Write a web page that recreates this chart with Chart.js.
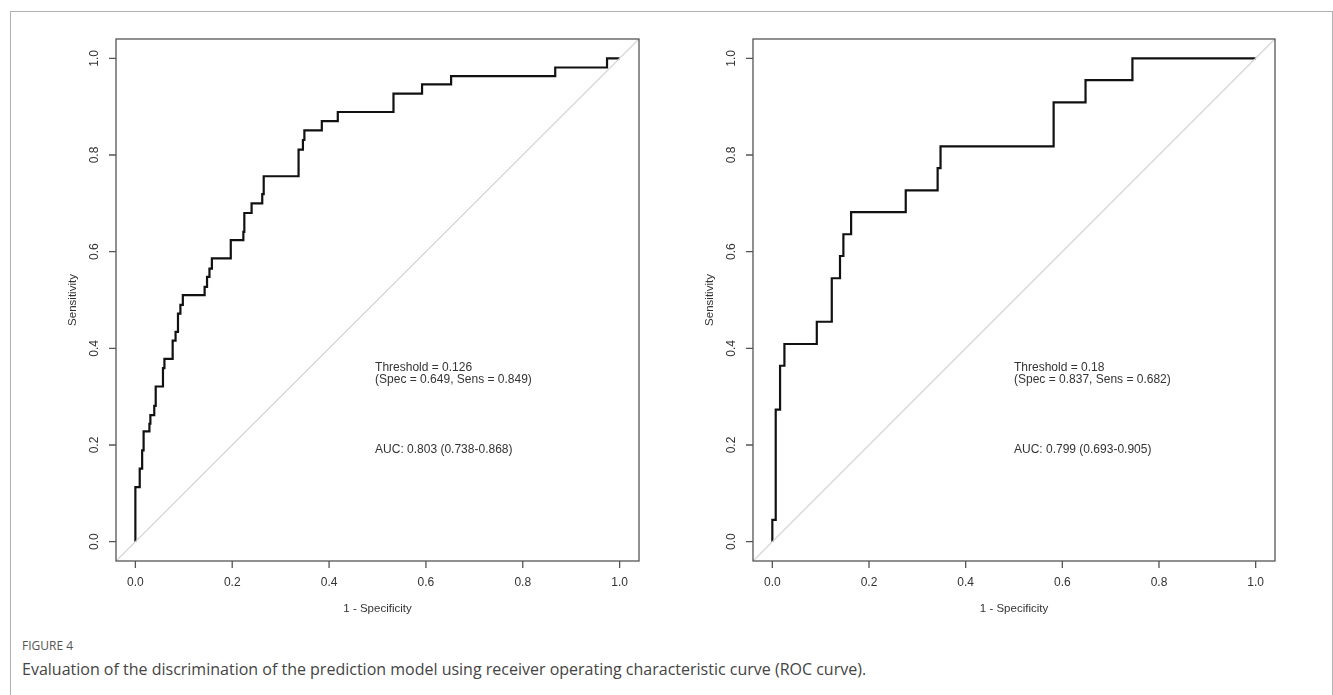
<!DOCTYPE html>
<html>
<head>
<meta charset="utf-8">
<script src="https://cdn.jsdelivr.net/npm/chart.js@4.4.1/dist/chart.umd.min.js"></script>
<style>
  body { margin: 0; background: #fff; width: 1333px; height: 695px; overflow: hidden; position: relative; }
  .frame { position: absolute; left: 10px; top: 11px; width: 1321px; height: 720px; border: 1px solid #b0b0b0; }
  canvas { position: absolute; top: 0; }
  #rocLeft { left: 0; }
  #rocRight { left: 666px; }
  .fig-label { position: absolute; left: 22px; top: 637px; font: 12px "Open Sans", sans-serif; color: #555; }
  .fig-caption { position: absolute; left: 22px; top: 658px; font: 16px "Open Sans", sans-serif; color: #444; }
</style>
</head>
<body>
<div class="frame"></div>
<canvas id="rocLeft" width="666" height="630"></canvas>
<canvas id="rocRight" width="667" height="630"></canvas>
<div class="fig-label">FIGURE 4</div>
<div class="fig-caption">Evaluation of the discrimination of the prediction model using receiver operating characteristic curve (ROC curve).</div>

<script>
// axis ticks (same on both panels)
const tickValues = [0, 0.2, 0.4, 0.6, 0.8, 1.0];
const tickLabels = ['0.0', '0.2', '0.4', '0.6', '0.8', '1.0'];

// left model: 1 - specificity / sensitivity at each step
const leftFpr = [0, 0.009, 0.014, 0.017, 0.029, 0.031, 0.039, 0.042, 0.057, 0.060, 0.077, 0.083, 0.088, 0.093, 0.098,
  0.143, 0.148, 0.153, 0.158, 0.197, 0.223, 0.225, 0.240, 0.262, 0.265, 0.337, 0.346, 0.349, 0.385, 0.418,
  0.533, 0.592, 0.652, 0.867, 0.974, 1.0];
const leftSens = [0, 0.113, 0.151, 0.189, 0.228, 0.244, 0.262, 0.281, 0.321, 0.359, 0.378, 0.416, 0.434, 0.472, 0.490,
  0.510, 0.527, 0.548, 0.565, 0.586, 0.624, 0.641, 0.680, 0.700, 0.719, 0.756, 0.811, 0.831, 0.851, 0.870,
  0.889, 0.927, 0.946, 0.963, 0.981, 1.0];

// right model
const rightFpr = [0, 0.007, 0.016, 0.025, 0.092, 0.123, 0.140, 0.147, 0.163, 0.276, 0.342, 0.348, 0.582, 0.648, 0.745, 1.0];
const rightSens = [0, 0.045, 0.273, 0.364, 0.409, 0.455, 0.545, 0.591, 0.636, 0.682, 0.727, 0.773, 0.818, 0.909, 0.955, 1.0];

const leftNotes = ['Threshold = 0.126', '(Spec = 0.649, Sens = 0.849)', 'AUC: 0.803 (0.738-0.868)'];
const rightNotes = ['Threshold = 0.18', '(Spec = 0.837, Sens = 0.682)', 'AUC: 0.799 (0.693-0.905)'];

const LIM = [-0.04, 1.04];
const axisColor = '#555';
const textColor = '#333';
const baseFont = '"Liberation Sans", Arial, sans-serif';

// draws R-style box, ticks, labels and the text notes
const rPlotBase = {
  id: 'rPlotBase',
  afterDraw(chart, args, opts) {
    const { ctx, chartArea: a, scales: { x, y } } = chart;
    ctx.save();
    ctx.strokeStyle = axisColor;
    ctx.lineWidth = 1.3;
    ctx.strokeRect(a.left, a.top, a.right - a.left, a.bottom - a.top);

    ctx.fillStyle = textColor;
    ctx.font = '12px ' + baseFont;
    ctx.textAlign = 'center';
    ctx.textBaseline = 'middle';
    tickValues.forEach((v, i) => {
      const px = x.getPixelForValue(v);
      const py = y.getPixelForValue(v);
      ctx.beginPath();
      ctx.moveTo(px, a.bottom); ctx.lineTo(px, a.bottom + 7);
      ctx.moveTo(a.left, py); ctx.lineTo(a.left - 7, py);
      ctx.stroke();
      ctx.fillText(tickLabels[i], px, a.bottom + 22);
      ctx.save();
      ctx.translate(a.left - 21, py);
      ctx.rotate(-Math.PI / 2);
      ctx.fillText(tickLabels[i], 0, 0);
      ctx.restore();
    });

    // axis titles
    ctx.font = '11.5px ' + baseFont;
    ctx.fillText('1 - Specificity', x.getPixelForValue(0.5), a.bottom + 48);
    ctx.save();
    ctx.translate(a.left - 43, y.getPixelForValue(0.5));
    ctx.rotate(-Math.PI / 2);
    ctx.fillText('Sensitivity', 0, 0);
    ctx.restore();

    // threshold + auc text
    ctx.font = '12px ' + baseFont;
    ctx.textAlign = 'left';
    const tx = x.getPixelForValue(opts.noteX);
    ctx.fillText(opts.notes[0], tx, y.getPixelForValue(0.359));
    ctx.fillText(opts.notes[1], tx, y.getPixelForValue(0.335));
    ctx.fillText(opts.notes[2], tx, y.getPixelForValue(0.19));
    ctx.restore();
  }
};

function makeRoc(id, fpr, sens, notes, noteX, padding) {
  return new Chart(document.getElementById(id), {
    type: 'line',
    data: {
      datasets: [{
        data: [{ x: LIM[0], y: LIM[0] }, { x: LIM[1], y: LIM[1] }],
        borderColor: '#d0d0d0',
        borderWidth: 1.2,
        pointRadius: 0
      }, {
        data: fpr.map((v, i) => ({ x: v, y: sens[i] })),
        borderColor: '#111',
        borderWidth: 2.2,
        stepped: 'after',
        pointRadius: 0
      }]
    },
    options: {
      responsive: false,
      animation: false,
      layout: { padding },
      scales: {
        x: { type: 'linear', min: LIM[0], max: LIM[1], display: false },
        y: { type: 'linear', min: LIM[0], max: LIM[1], display: false }
      },
      plugins: {
        legend: { display: false },
        tooltip: { enabled: false },
        rPlotBase: { notes, noteX }
      }
    },
    plugins: [rPlotBase]
  });
}

makeRoc('rocLeft', leftFpr, leftSens, leftNotes, 0.495, { left: 116, top: 39, right: 27, bottom: 69 });
makeRoc('rocRight', rightFpr, rightSens, rightNotes, 0.5, { left: 87, top: 39, right: 58, bottom: 69 });
</script>
</body>
</html>
